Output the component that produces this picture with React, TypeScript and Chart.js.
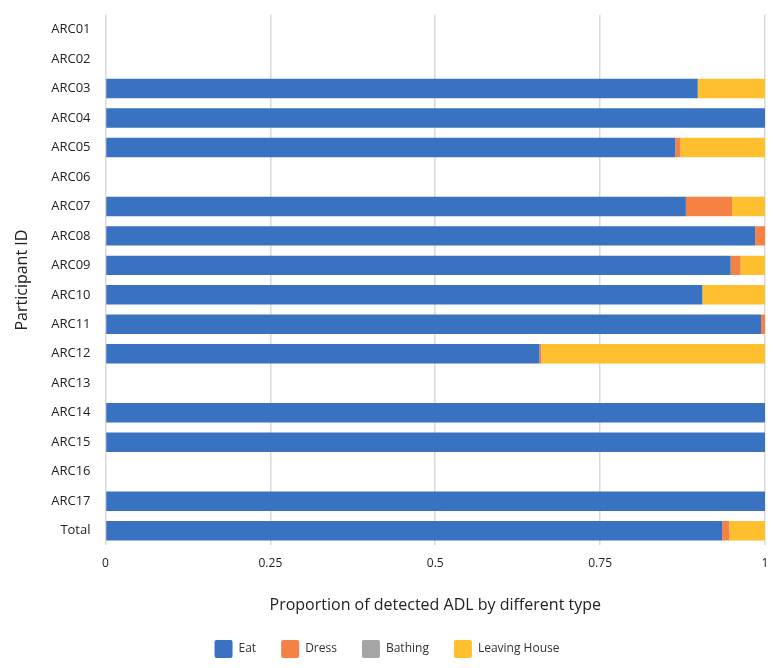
import { useEffect, useRef } from "react";
import { Chart, ChartConfiguration, registerables } from "chart.js";

Chart.register(...registerables);

const participants = [
  "ARC01", "ARC02", "ARC03", "ARC04", "ARC05", "ARC06", "ARC07", "ARC08", "ARC09",
  "ARC10", "ARC11", "ARC12", "ARC13", "ARC14", "ARC15", "ARC16", "ARC17", "Total",
];

const eat = [0, 0, 0.898, 1, 0.864, 0, 0.88, 0.985, 0.948, 0.905, 0.994, 0.658, 0, 1, 1, 0, 1, 0.935];
const dress = [0, 0, 0, 0, 0.008, 0, 0.07, 0.015, 0.015, 0, 0.006, 0.003, 0, 0, 0, 0, 0, 0.011];
const bathing = [0, 0, 0, 0, 0, 0, 0, 0, 0, 0, 0, 0, 0, 0, 0, 0, 0, 0];
const leavingHouse = [0, 0, 0.102, 0, 0.128, 0, 0.05, 0, 0.037, 0.095, 0, 0.339, 0, 0, 0, 0, 0, 0.054];

const xTicks = [0, 0.25, 0.5, 0.75, 1];

const FONT = "'Open Sans', sans-serif";

export default function App() {
  const canvasRef = useRef<HTMLCanvasElement>(null);
  const chartRef = useRef<Chart | null>(null);

  useEffect(() => {
    if (!canvasRef.current) return;
    if (chartRef.current) chartRef.current.destroy();

    const series = [
      { label: "Eat", data: eat, color: "#3a72c2" },
      { label: "Dress", data: dress, color: "#f48244" },
      { label: "Bathing", data: bathing, color: "#a5a5a5" },
      { label: "Leaving House", data: leavingHouse, color: "#fec02f" },
    ];

    const config: ChartConfiguration<"bar"> = {
      type: "bar",
      data: {
        labels: participants,
        datasets: series.map((s) => ({
          label: s.label,
          data: s.data,
          backgroundColor: s.color,
          borderWidth: 0,
          barPercentage: 0.66,
          categoryPercentage: 1,
        })),
      },
      options: {
        indexAxis: "y",
        responsive: true,
        maintainAspectRatio: false,
        animation: false,
        layout: { padding: { top: 7, right: 18, left: 9, bottom: 0 } },
        scales: {
          x: {
            stacked: true,
            min: 0,
            max: 1,
            afterBuildTicks: (axis) => {
              axis.ticks = xTicks.map((v) => ({ value: v }));
            },
            grid: { color: "#d9d9d9", drawTicks: false, lineWidth: 1.5 },
            border: { display: false },
            ticks: {
              color: "#222",
              font: { family: FONT, size: 12 },
              padding: 11,
              callback: (v) => String(v),
            },
            title: {
              display: true,
              text: "Proportion of detected ADL by different type",
              color: "#222",
              font: { family: FONT, size: 16 },
              padding: { top: 14, bottom: 0 },
            },
          },
          y: {
            stacked: true,
            grid: { display: false },
            border: { display: false },
            ticks: {
              color: "#222",
              font: { family: FONT, size: 13 },
              padding: 7,
              autoSkip: false,
            },
            title: {
              display: true,
              text: "Participant ID",
              color: "#222",
              font: { family: FONT, size: 16 },
              padding: { bottom: 12 },
            },
          },
        },
        plugins: {
          legend: {
            position: "bottom",
            labels: {
              color: "#333",
              font: { family: FONT, size: 12 },
              boxWidth: 18,
              boxHeight: 18,
              padding: 25,
              useBorderRadius: true,
              borderRadius: 2,
            },
          },
          tooltip: { enabled: false },
        },
      },
    };

    chartRef.current = new Chart(canvasRef.current, config);

    return () => {
      if (chartRef.current) {
        chartRef.current.destroy();
        chartRef.current = null;
      }
    };
  }, []);

  return (
    <div style={{ position: "absolute", left: 0, top: 0, width: 783, height: 668, background: "#fff" }}>
      <canvas ref={canvasRef} />
    </div>
  );
}
